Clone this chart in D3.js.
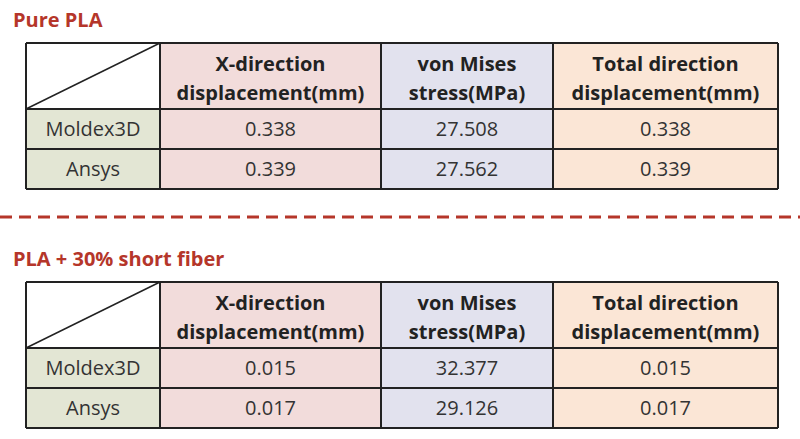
<!DOCTYPE html>
<html><head><meta charset="utf-8">
<script src="https://cdn.jsdelivr.net/npm/d3@7"></script>
<style>body{margin:0;background:#fff}text{font-family:"Open Sans","Noto Sans",sans-serif}</style>
</head><body><svg></svg>
<script>
const headers = [["X-direction", "displacement(mm)"], ["von Mises", "stress(MPa)"], ["Total direction", "displacement(mm)"]];
const rowLabels = ["Moldex3D", "Ansys"];
const pureValues = [["0.338", "27.508", "0.338"], ["0.339", "27.562", "0.339"]];
const fiberValues = [["0.015", "32.377", "0.015"], ["0.017", "29.126", "0.017"]];
const titles = ["Pure PLA", "PLA + 30% short fiber"];

const svg = d3.select("svg").attr("width", 800).attr("height", 439);
const edges = [26, 160, 381, 553, 778];
const colFill = ["#e3e6d4", "#f2dcdb", "#e2e2ee", "#fbe6d6"];
const red = "#b5362a";

function table(title, values, top) {
  svg.append("text").attr("x", 13).attr("y", top - 16).attr("fill", red)
    .attr("font-weight", "bold").attr("font-size", 20).text(title);
  const g = svg.append("g").attr("transform", `translate(0,${top})`);
  const rowY = [0, 66, 106, 146];
  for (let c = 0; c < 4; c++) {
    for (let r = 0; r < 3; r++) {
      if (c === 0 && r === 0) continue;
      g.append("rect").attr("x", edges[c]).attr("y", rowY[r])
        .attr("width", edges[c + 1] - edges[c]).attr("height", rowY[r + 1] - rowY[r])
        .attr("fill", colFill[c]);
    }
  }
  // grid lines
  rowY.forEach(y => g.append("line").attr("x1", edges[0]).attr("x2", edges[4]).attr("y1", y).attr("y2", y)
    .attr("stroke", "#222").attr("stroke-width", 2));
  edges.forEach(x => g.append("line").attr("x1", x).attr("x2", x).attr("y1", 0).attr("y2", rowY[3])
    .attr("stroke", "#222").attr("stroke-width", 2));
  g.append("line").attr("x1", edges[0]).attr("y1", rowY[1]).attr("x2", edges[1]).attr("y2", 0)
    .attr("stroke", "#222").attr("stroke-width", 1.5);
  headers.forEach((h, i) => {
    const cx = (edges[i + 1] + edges[i + 2]) / 2;
    g.append("text").attr("x", cx).attr("y", 28).attr("text-anchor", "middle")
      .attr("font-weight", "bold").attr("font-size", 20).attr("fill", "#222").text(h[0]);
    g.append("text").attr("x", cx).attr("y", 57).attr("text-anchor", "middle")
      .attr("font-weight", "bold").attr("font-size", 20).attr("fill", "#222").text(h[1]);
  });
  rowLabels.forEach((lab, r) => {
    const cy = (rowY[r + 1] + rowY[r + 2]) / 2 + 7;
    g.append("text").attr("x", (edges[0] + edges[1]) / 2).attr("y", cy).attr("text-anchor", "middle")
      .attr("font-size", 20).attr("fill", "#333").text(lab);
    values[r].forEach((v, c) => {
      g.append("text").attr("x", (edges[c + 1] + edges[c + 2]) / 2).attr("y", cy)
        .attr("text-anchor", "middle").attr("font-size", 20).attr("fill", "#333").text(v);
    });
  });
}
table(titles[0], pureValues, 43);
svg.append("line").attr("x1", 0).attr("x2", 800).attr("y1", 217).attr("y2", 217)
  .attr("stroke", red).attr("stroke-width", 3).attr("stroke-dasharray", "12,7");
table(titles[1], fiberValues, 282);
</script></body></html>
